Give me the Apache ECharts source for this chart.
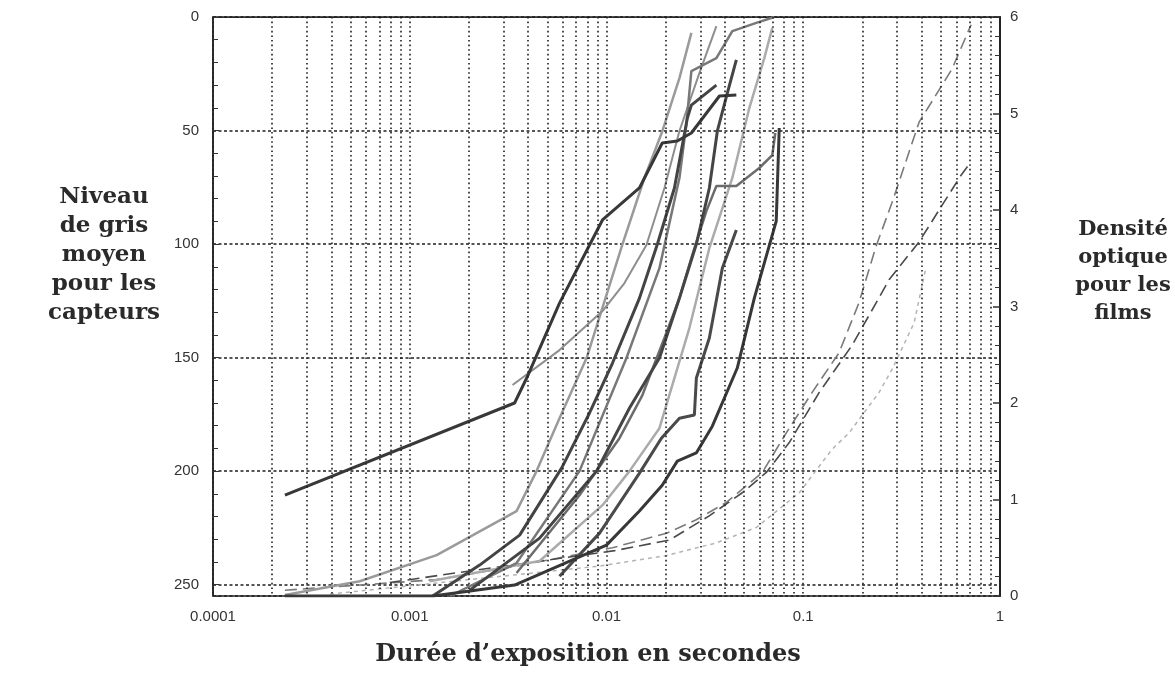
<!DOCTYPE html>
<html>
<head>
<meta charset="utf-8">
<title>Niveau de gris / densité optique</title>
<script src="https://cdn.jsdelivr.net/npm/echarts/dist/echarts.min.js"></script>
<style>
  html, body { margin: 0; padding: 0; background: #fff; }
  #chart { width: 1175px; height: 691px; }
</style>
</head>
<body>
<div id="chart"></div>
<script>
// axes
var xTicks = [0.0001, 0.001, 0.01, 0.1, 1];
var xTickLabels = ['0.0001', '0.001', '0.01', '0.1', '1'];
var gridMults = [2, 3, 4, 5, 6, 7, 8, 9];
var grayTicks = [0, 50, 100, 150, 200, 250];
var densityTicks = [0, 1, 2, 3, 4, 5, 6];

// capteurs : [durée (s), niveau de gris]
var capteurA = [[0.000232, 210.6], [0.00341, 170], [0.00393, 159], [0.00577, 126], [0.0082, 100.4], [0.00954, 89.4],
    [0.0147, 75.3], [0.0192, 55.5], [0.0229, 54.6], [0.027, 51.1], [0.0375, 34.8], [0.0457, 34.4]];
var capteurB = [[0.000232, 255], [0.00131, 255], [0.00341, 250.2], [0.01, 232.6], [0.0147, 217.6], [0.0192, 206.2],
    [0.0229, 195.6], [0.0286, 192], [0.0345, 180.2], [0.0462, 154.6], [0.0564, 123.8], [0.0729, 89.9], [0.0755, 48.9]];
var capteurC = [[0.000232, 254.6], [0.000557, 248.5], [0.00137, 237], [0.00349, 217.6], [0.00441, 200], [0.00577, 176.7],
    [0.00792, 150.2], [0.01206, 100], [0.01559, 70.9], [0.01924, 50.2], [0.02348, 26.9], [0.027, 7]];
var capteurD = [[0.00333, 162.1], [0.00577, 146.7], [0.00954, 129.5], [0.01234, 117.2], [0.01596, 100.4], [0.0197, 75.3],
    [0.02348, 50.2], [0.02965, 24.7], [0.03618, 4]];
var capteurE = [[0.001308, 255], [0.002266, 241.4], [0.003618, 228.2], [0.005911, 198.7], [0.0082, 174.4], [0.01073, 152.4],
    [0.01471, 123.8], [0.01815, 100], [0.02214, 75.3], [0.02577, 44.5], [0.027, 38.8], [0.03618, 30]];
var capteurF = [[0.0016, 255], [0.00349, 240.5], [0.00729, 200], [0.01263, 150.2], [0.01858, 110.6], [0.02348, 70.9],
    [0.0255, 46.7], [0.027, 23.8], [0.03618, 18.1], [0.0436, 6.2], [0.05774, 2.6], [0.07127, 0]];
var capteurG = [[0.00202, 252.4], [0.00457, 229.5], [0.0089, 200], [0.01309, 172.2], [0.01858, 150.2], [0.02348, 123.8],
    [0.02863, 100], [0.03332, 75.3], [0.0366, 50.2], [0.04113, 33.5], [0.0457, 18.9]];
var capteurH = [[0.00126, 248.5], [0.00457, 239.6], [0.00954, 215], [0.01309, 200], [0.01858, 181.1], [0.02638, 137],
    [0.03332, 101.8], [0.0436, 70.9], [0.05319, 40.1], [0.06339, 18.1], [0.06962, 4.8]];
var capteurI = [[0.00349, 244.9], [0.00729, 210.6], [0.01164, 185.5], [0.01523, 166.5], [0.0197, 141.4], [0.02348, 123.8],
    [0.02731, 104.8], [0.03218, 85.5], [0.03618, 74.4], [0.0457, 74.4], [0.05979, 66.5], [0.06962, 60.8], [0.07211, 51.1]];
var capteurJ = [[0.00577, 246.3], [0.00922, 227.3], [0.01471, 200.9], [0.01901, 185.5], [0.02348, 176.7], [0.02797, 175.3],
    [0.02863, 159], [0.03332, 141.4], [0.0388, 110.6], [0.0457, 93.8]];

// films : [durée (s), densité optique]
var film1 = [[0.000232, 0.06], [0.00137, 0.17], [0.00349, 0.31], [0.01072, 0.5], [0.0202, 0.65], [0.0286, 0.79],
    [0.0407, 0.97], [0.0619, 1.28], [0.082, 1.69], [0.111, 2.11], [0.152, 2.52], [0.192, 3.04], [0.235, 3.63],
    [0.283, 4.08], [0.388, 4.91], [0.57, 5.46], [0.713, 5.92]];
var film2 = [[0.000791, 0.14], [0.00173, 0.24], [0.011, 0.47], [0.0209, 0.58], [0.0333, 0.83], [0.049, 1.07],
    [0.0649, 1.28], [0.0849, 1.59], [0.1206, 2.11], [0.1773, 2.6], [0.235, 3.04], [0.2735, 3.28], [0.388, 3.67],
    [0.508, 4.05], [0.634, 4.36], [0.713, 4.5]];
var film3 = [[0.000393, 0.02], [0.0092, 0.31], [0.0202, 0.42], [0.0361, 0.55], [0.0577, 0.71], [0.0955, 1.07],
    [0.14, 1.52], [0.171, 1.69], [0.243, 2.11], [0.283, 2.35], [0.366, 2.83], [0.42, 3.4]];

var dots = { color: '#1e1e1e', width: 1.6, type: [1.6, 3] };

function capteur(name, data, color, width) {
    return {
        name: name, type: 'line', data: data, yAxisIndex: 0,
        symbol: 'none', smooth: false, silent: true,
        lineStyle: { color: color, width: width }
    };
}
function film(name, data, color, width, dash) {
    return {
        name: name, type: 'line', data: data, yAxisIndex: 1,
        symbol: 'none', smooth: false, silent: true,
        lineStyle: { color: color, width: width, type: dash }
    };
}

// lignes verticales secondaires (2..9 par décade)
var minorLines = [];
xTicks.slice(0, 4).forEach(function (d) {
    gridMults.forEach(function (m) { minorLines.push({ xAxis: +(d * m).toPrecision(3) }); });
});

var tickFont = { color: '#333', fontFamily: 'Liberation Sans', fontSize: 15 };

var myChart = echarts.init(document.getElementById('chart'));
var option = {
    animation: false,
    backgroundColor: '#fff',
    grid: { left: 213, right: 175, top: 17, bottom: 95, show: true, borderColor: '#222', borderWidth: 1.5 },
    xAxis: {
        type: 'log', logBase: 10, min: xTicks[0], max: xTicks[xTicks.length - 1],
        axisLine: { show: true, lineStyle: { color: '#222', width: 1.2, type: [2, 2] } },
        axisTick: { show: false },
        axisLabel: Object.assign({
            margin: 13,
            formatter: function (v) {
                var i = Math.round(Math.log10(v)) + 4;
                return xTickLabels[i] || '';
            }
        }, tickFont),
        splitLine: { show: true, lineStyle: dots }
    },
    yAxis: [{
        type: 'value', inverse: true, min: 0, max: 255, interval: 50, position: 'left',
        axisLine: { show: true, lineStyle: { color: '#222', width: 1.5 } },
        axisTick: { show: true, inside: true, length: 6, lineStyle: { color: '#333' } },
        minorTick: { show: true, splitNumber: 5, length: 5, lineStyle: { color: '#333' } },
        axisLabel: Object.assign({
            margin: 14, showMaxLabel: false,
            formatter: function (v) { return grayTicks.indexOf(v) >= 0 ? String(v) : ''; }
        }, tickFont),
        splitLine: { show: true, lineStyle: { color: '#1e1e1e', width: 1.5, type: [3, 2.5] } }
    }, {
        type: 'value', min: 0, max: 6, interval: 1, position: 'right',
        axisLine: { show: true, lineStyle: { color: '#222', width: 2 } },
        axisTick: { show: true, inside: true, length: 7, lineStyle: { color: '#333', width: 1.5 } },
        minorTick: { show: true, splitNumber: 5, length: 5, lineStyle: { color: '#333' } },
        axisLabel: Object.assign({
            margin: 10,
            formatter: function (v) { return densityTicks.indexOf(v) >= 0 ? String(v) : ''; }
        }, tickFont),
        splitLine: { show: false }
    }],
    graphic: [{
        type: 'text', x: 104, y: 183,
        style: {
            text: 'Niveau\nde gris\nmoyen\npour les\ncapteurs', textAlign: 'center', textVerticalAlign: 'top',
            font: 'bold 23px "DejaVu Serif"', lineHeight: 29, fill: '#2a2a2a'
        }
    }, {
        type: 'text', x: 1123, y: 216,
        style: {
            text: 'Densité\noptique\npour les\nfilms', textAlign: 'center', textVerticalAlign: 'top',
            font: 'bold 21px "DejaVu Serif"', lineHeight: 28, fill: '#2a2a2a'
        }
    }, {
        type: 'text', x: 588, y: 643,
        style: {
            text: 'Durée d’exposition en secondes', textAlign: 'center', textVerticalAlign: 'top',
            font: 'bold 24px "DejaVu Serif"', fill: '#2a2a2a'
        }
    }],
    series: [
        {
            name: 'grille', type: 'line', data: [], silent: true,
            markLine: {
                silent: true, symbol: ['none', 'none'], label: { show: false }, precision: 8,
                lineStyle: dots, data: minorLines, animation: false
            }
        },
        film('film 3', film3, '#b4b4b4', 1.5, [4, 4]),
        film('film 1', film1, '#7a7a7a', 1.6, [12, 6]),
        film('film 2', film2, '#4a4a4a', 1.6, [12, 6]),
        capteur('capteur H', capteurH, '#ababab', 2.5),
        capteur('capteur C', capteurC, '#9a9a9a', 2.5),
        capteur('capteur D', capteurD, '#8e8e8e', 2),
        capteur('capteur F', capteurF, '#787878', 2.5),
        capteur('capteur I', capteurI, '#6c6c6c', 2.5),
        capteur('capteur J', capteurJ, '#4a4a4a', 3),
        capteur('capteur G', capteurG, '#454545', 3),
        capteur('capteur E', capteurE, '#444444', 3),
        capteur('capteur B', capteurB, '#383838', 3),
        capteur('capteur A', capteurA, '#383838', 3)
    ]
};
myChart.setOption(option);
window.addEventListener('resize', function () {
    myChart.resize();
});
</script>
</body>
</html>
